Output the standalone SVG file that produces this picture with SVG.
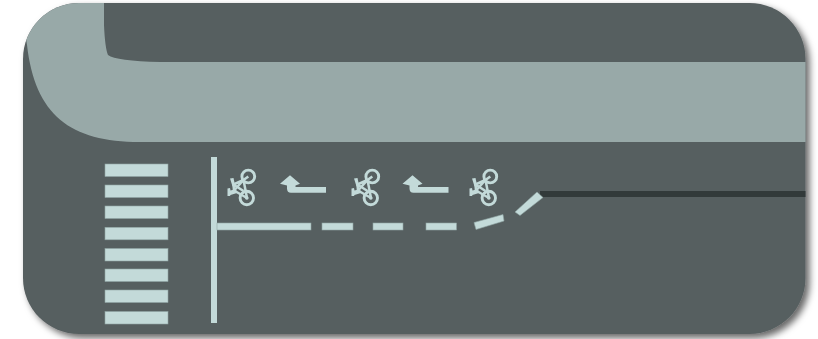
<svg xmlns="http://www.w3.org/2000/svg" width="818" height="339" viewBox="0 0 818 339">
<style>
.m{fill:#c3dad9}
.d{fill:#c3dad9;stroke:#8fa5a3;stroke-width:.6}
.bk{fill:none;stroke:#c3dad9;stroke-width:2.900}
.bt{fill:none;stroke:#c3dad9;stroke-width:2.500;stroke-linejoin:round}
.bf{fill:#c3dad9}
</style>
<defs>
<clipPath id="p"><rect x="23" y="3" width="782.500" height="331" rx="56" ry="56"/></clipPath>
<filter id="s" x="-5%" y="-5%" width="110%" height="115%"><feDropShadow dx="4" dy="4" stdDeviation="3.500" flood-color="#000" flood-opacity=".6"/></filter>
<g id="bike">
<circle class="bk" cx="248.300" cy="176.500" r="6.400"/>
<circle class="bk" cx="246.800" cy="198" r="6.700"/>
<circle class="bf" cx="246.800" cy="198" r="1.800"/>
<path class="bt" d="M233.500 184.500L243.500 180L247 198L234 190.500L233.500 184.500M233.500 184.500L243.500 191M243.500 180L248.300 176.500M234 190.500L243.500 180"/>
<path class="bf" d="M230 178.500L233.500 178L235 185L232.500 186.500Z"/>
<path class="bf" d="M227.500 188.500L230 188L230.500 190.500L236 189L237 193L230.500 195L230 196L227.500 196Z"/>
</g>
<path id="arr" class="m" d="M280 183.800L290 175.200L300 183.800L295.500 185.500L295.500 187L326 187L326 192.700L291 192.700Q287 192.700 287 188.500L287 185.500Z"/>
</defs>
<g id="panel">
<rect x="23" y="3" width="782.500" height="331" rx="56" ry="56" fill="#575f60" filter="url(#s)"/>
</g>
<g id="road" clip-path="url(#p)">
<path fill="#98a9a8" d="M104 0L104 25Q105 48 108 55Q116 61 160 62L810 62L810 142L140 142C70 142 35 115 27 45L20 0Z"/>
<rect x="540" y="191" width="266" height="6" fill="#323a3a"/>
</g>
<g id="crosswalk">
<rect class="d" x="105" y="164" width="63" height="12.500"/>
<rect class="d" x="105" y="185" width="63" height="12.500"/>
<rect class="d" x="105" y="206" width="63" height="12.500"/>
<rect class="d" x="105" y="227.300" width="63" height="12.500"/>
<rect class="d" x="105" y="248.500" width="63" height="12.500"/>
<rect class="d" x="105" y="269" width="63" height="12.500"/>
<rect class="d" x="105" y="290" width="63" height="12.500"/>
<rect class="d" x="105" y="311.500" width="63" height="12.500"/>
</g>
<g id="lane-lines">
<rect class="m" x="211" y="157" width="6" height="166"/>
<rect class="d" x="217" y="223" width="94" height="7"/>
<rect class="d" x="322" y="223" width="31" height="7"/>
<rect class="d" x="373" y="223" width="30" height="7"/>
<rect class="d" x="426" y="223" width="30.500" height="7"/>
<path class="d" d="M474 222.500L503 214.500L504 221L476 229.500Z"/>
<path class="d" d="M515 212L537 192L543 197.500L520 215.500Z"/>
</g>
<g id="bike-1"><use href="#bike"/></g>
<g id="arrow-1"><use href="#arr"/></g>
<g id="bike-2"><use href="#bike" x="124"/></g>
<g id="arrow-2"><use href="#arr" x="122.500"/></g>
<g id="bike-3"><use href="#bike" x="242"/></g>
</svg>
